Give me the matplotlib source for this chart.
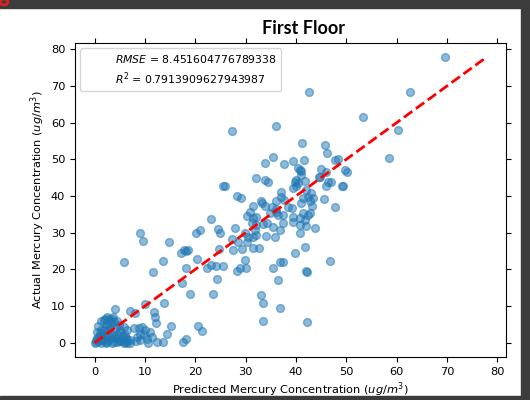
import matplotlib
matplotlib.use("Agg")
import matplotlib.pyplot as plt
from matplotlib.patches import Rectangle, Ellipse
import numpy as np

plt.rcParams['font.family'] = ['DejaVu Sans']
plt.rcParams['font.size'] = 8.2

title = "First Floor"
xlabel = "Predicted Mercury Concentration ($ug/m^3$)"
ylabel = "Actual Mercury Concentration ($ug/m^3$)"
rmse_label = "$RMSE$ = 8.451604776789338"
r2_label = "$R^2$ = 0.7913909627943987"
xticks = [0, 10, 20, 30, 40, 50, 60, 70, 80]
yticks = [0, 10, 20, 30, 40, 50, 60, 70, 80]

# predicted (x) and actual (y) values
upper_x = [69.6, 62.6, 53.3, 60.2, 58.5, 42.5, 27.2, 36.1, 41.1, 45.8, 46.2, 47.8, 48.4, 49.7, 50.1,
           47.0, 49.1, 33.8, 35.4, 37.7, 39.4, 41.6, 40.4, 40.7, 41.0, 41.0, 45.0, 46.0, 44.7, 32.0,
           33.8, 34.4, 37.0, 37.1, 37.7, 36.1, 39.4, 40.0, 39.7, 40.0, 41.7, 40.4, 44.5, 46.3, 46.0,
           49.3, 42.0, 43.0, 42.4, 43.3, 42.7, 41.4, 45.5, 47.8, 43.2]
upper_y = [77.8, 68.4, 61.6, 58.0, 50.4, 68.4, 57.8, 59.2, 54.3, 54.0, 51.7, 49.9, 50.0, 47.1, 46.4,
           43.7, 42.8, 49.0, 50.6, 48.8, 49.4, 49.9, 47.6, 47.1, 46.7, 45.8, 47.4, 46.6, 45.3, 45.0,
           44.4, 43.7, 41.2, 39.7, 38.9, 38.5, 42.1, 42.6, 43.9, 44.4, 44.2, 43.5, 45.1, 43.9, 42.6,
           42.8, 41.7, 40.9, 39.8, 39.4, 38.5, 39.4, 39.1, 37.1, 37.3]

mid_x = [25.5, 25.9, 28.2, 29.0, 31.4, 30.8, 30.2, 33.3, 33.8, 35.3, 36.1, 31.5, 31.2, 32.0, 31.8,
         32.0, 34.2, 35.4, 34.1, 35.8, 36.8, 23.2, 24.6, 24.9, 27.9, 20.2, 20.9, 9.0, 9.6, 14.7,
         27.2, 28.5, 30.2, 30.5, 29.8, 27.4, 29.2, 31.5, 32.7, 17.7, 18.2, 18.6, 17.1, 24.8, 20.4,
         5.9, 13.6, 11.6, 18.2, 22.3, 23.2, 24.2, 25.4, 28.2, 28.9, 30.0, 29.8, 35.4, 36.8, 24.4,
         17.3, 18.9, 23.5,
         33.1, 36.0, 34.8, 36.4, 37.4, 38.4, 39.1, 41.0, 41.4, 42.3, 42.7, 39.4, 40.7, 41.7, 39.4,
         37.4, 40.7, 42.0, 43.7, 32.1, 33.5, 31.5, 40.7, 41.7, 39.7, 37.4, 36.4, 42.0, 42.1, 46.7,
         33.1, 33.5, 36.8, 33.5, 42.2]
mid_y = [42.8, 42.6, 40.0, 39.4, 37.3, 35.7, 34.6, 38.2, 37.3, 36.9, 35.7, 33.9, 32.7, 32.1, 30.7,
         29.4, 32.6, 31.6, 29.1, 28.9, 30.7, 33.6, 30.9, 29.8, 31.2, 30.0, 30.7, 29.8, 27.8, 27.4,
         28.2, 27.5, 27.5, 28.9, 29.8, 25.3, 25.5, 25.7, 25.7, 25.3, 25.1, 25.3, 24.5, 25.5, 22.7,
         22.1, 22.4, 19.3, 20.4, 20.5, 21.2, 20.9, 20.9, 19.6, 20.5, 20.3, 22.5, 20.4, 22.1, 17.3,
         16.3, 13.4, 13.4,
         38.5, 36.4, 35.3, 34.8, 34.8, 37.1, 36.6, 38.0, 35.3, 34.8, 35.3, 34.4, 33.9, 33.5, 33.0,
         32.7, 32.1, 31.8, 31.2, 34.4, 32.4, 28.9, 29.8, 26.2, 24.5, 22.1, 17.1, 19.5, 19.3, 22.3,
         13.0, 10.7, 9.6, 5.9, 5.7]

low_x = [4.0, 7.0, 8.1, 10.1, 13.8, 11.8, 12.0, 12.1, 15.1, 14.3, 20.5, 21.4, 12.4, 13.5, 17.6,
         18.1, 7.8, 8.3,
         1.8, 2.5, 3.5, 3.2, 3.8, 2.2, 1.2, 1.5, 2.8, 0.9, 1.8, 0.2, 1.2, 2.5, 3.8, 4.5, 5.1, 4.8,
         5.8, 6.5, 6.1, 5.5, 6.5, 7.1, 4.5, 3.5, 5.8, 6.5, 2.2, 8.8, 9.4, 10.1, 11.1, 9.1, 9.8, 8.4,
         9.1, 10.4, 10.7, 11.4, 0.5, 0.0,
         0.3, 0.8, 1.2, 1.5, 2.0, 2.3, 2.6, 3.0, 3.4, 3.9, 4.3, 4.8, 5.3, 5.6, 6.0, 1.9, 2.4, 3.0,
         0.6, 1.3, 2.9, 3.6, 4.5, 5.0, 1.0, 0.4, 2.0, 6.3, 7.0, 4.0]
low_y = [9.3, 8.6, 8.1, 10.5, 10.7, 8.4, 7.1, 5.3, 4.5, 2.5, 4.6, 3.1, 0.1, 0.1, 0.1,
         1.0, 3.9, 0.6,
         6.1, 7.0, 6.6, 5.7, 5.7, 4.3, 3.4, 2.5, 3.4, 1.6, 1.1, 0.7, 0.0, 0.2, 1.6, 2.5, 3.4, 4.8,
         4.3, 3.4, 2.0, 1.1, 0.7, 0.7, 0.2, 0.0, 0.0, 0.0, 0.0, 3.9, 4.3, 3.4, 3.0, 2.5, 2.0, 1.6,
         0.7, 1.1, 0.0, 1.6, 3.0, 0.0,
         0.3, 0.5, 1.5, 0.8, 0.5, 1.2, 2.2, 1.0, 2.0, 0.3, 1.2, 0.5, 0.4, 1.8, 0.3, 3.6, 5.0, 4.5,
         4.6, 5.8, 6.6, 7.0, 6.0, 3.0, 2.6, 1.3, 6.4, 1.4, 0.0, 4.0]

predicted = np.array(upper_x + mid_x + low_x)
actual = np.array(upper_y + mid_y + low_y)

fig = plt.figure(figsize=(5.3, 4.0), dpi=100)
ax = fig.add_axes([0.1415, 0.1075, 0.8132, 0.785])

ax.scatter(predicted, actual, s=32, color='#1f77b4', alpha=0.5)
lo = min(predicted.min(), actual.min())
hi = max(predicted.max(), actual.max())
ax.plot([lo, hi], [lo, hi], 'r--', lw=2)

ax.plot([], [], ' ', label=rmse_label)
ax.plot([], [], ' ', label=r2_label)
ax.legend(loc='upper left', borderaxespad=0.5, fontsize=7.8)

ax.set_xticks(xticks)
ax.set_yticks(yticks)
ax.tick_params(top=True, right=True, direction='out', length=3.5)
ax.set_xlabel(xlabel, labelpad=3)
ax.set_ylabel(ylabel, labelpad=3)

fig.text(303 / 530, 1 - 28 / 400, title, ha='center', va='center',
         fontsize=13, fontweight='bold', family=['Lato', 'DejaVu Sans'])

# screenshot frame
W, H = 530, 400
frame = '#3c3c3c'
fig.patches.append(Rectangle((0, 1 - 8 / H), 1, 8 / H, transform=fig.transFigure, color=frame, zorder=10))
fig.patches.append(Rectangle((521 / W, 0), 9 / W, 1, transform=fig.transFigure, color=frame, zorder=10))
fig.patches.append(Rectangle((0, 0), 1, 4 / H, transform=fig.transFigure, color=frame, zorder=10))
fig.patches.append(Ellipse((4 / W, 1 - 2 / H), 8 / W, 6 / H, transform=fig.transFigure,
                           facecolor='none', edgecolor='#e02020', lw=2, zorder=11))

fig.savefig('out.png', dpi=100)
